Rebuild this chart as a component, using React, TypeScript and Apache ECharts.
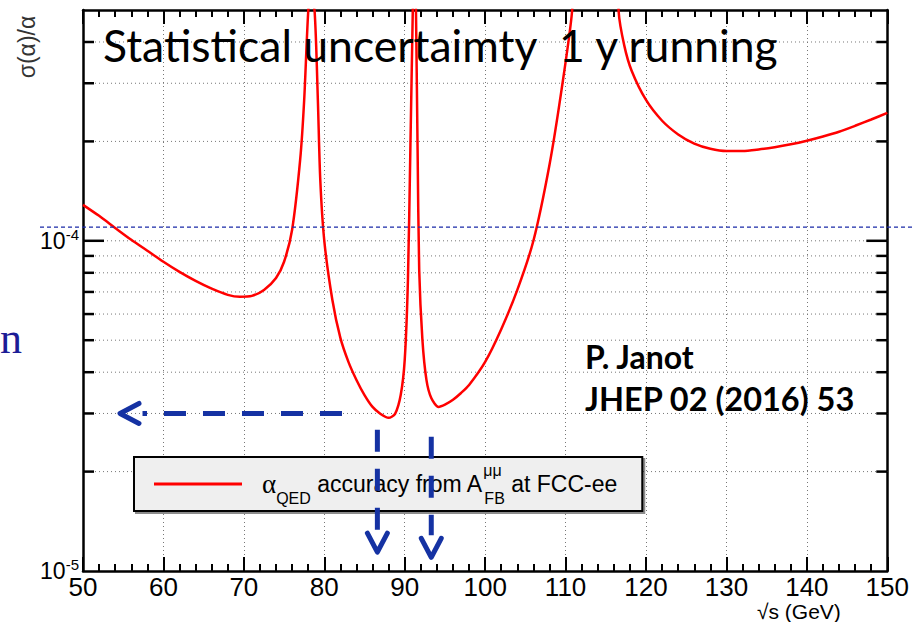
import React, { useEffect, useRef } from 'react';
import * as echarts from 'echarts';

// sqrt(s) in GeV
const energies = [
  50, 52, 54, 56, 58, 60, 62, 64, 66, 68,
  69.5, 71, 72.5, 74, 75, 76, 77, 77.5, 78, 78.3,
  78.8, 79.2, 79.5, 80, 81, 82, 83, 84, 85, 86,
  87, 88, 88.8, 89.5, 90, 90.4, 90.7, 91.0, 91.2, 91.4,
  91.6, 91.8, 92.2, 92.7, 93.3, 94.2, 95, 96, 97, 98,
  100, 102, 104, 106, 108, 109.5, 110.8, 112, 114, 116,
  116.6, 117.3, 118.2, 120, 122, 124, 126, 128, 130, 132,
  134, 136, 138, 140, 142, 144, 146, 148, 150,
];
// sigma(alpha)/alpha
const sigma = [
  1.285e-4, 1.19e-4, 1.094e-4, 1.007e-4, 9.33e-5, 8.64e-5, 8.05e-5, 7.56e-5, 7.16e-5, 6.86e-5,
  6.77e-5, 6.81e-5, 7.1e-5, 7.72e-5, 8.64e-5, 1.08e-4, 1.76e-4, 2.67e-4, 4.94e-4, 5.6e-4,
  4.94e-4, 2.67e-4, 1.53e-4, 1.0e-4, 6.63e-5, 5.08e-5, 4.3e-5, 3.79e-5, 3.41e-5, 3.14e-5,
  2.99e-5, 2.91e-5, 2.99e-5, 3.41e-5, 4.36e-5, 7.62e-5, 1.89e-4, 4.94e-4, 9e-4, 4.94e-4,
  1.89e-4, 8.17e-5, 5.01e-5, 3.79e-5, 3.34e-5, 3.14e-5, 3.19e-5, 3.3e-5, 3.46e-5, 3.66e-5,
  4.3e-5, 5.4e-5, 7.1e-5, 1.0e-4, 1.7e-4, 2.87e-4, 4.94e-4, 1.5e-3, 2e-3, 1.5e-3,
  4.94e-4, 3.9e-4, 3.28e-4, 2.67e-4, 2.31e-4, 2.1e-4, 1.97e-4, 1.9e-4, 1.87e-4, 1.87e-4,
  1.89e-4, 1.92e-4, 1.96e-4, 2.01e-4, 2.07e-4, 2.14e-4, 2.23e-4, 2.33e-4, 2.44e-4,
];

const xMin = 50;
const xMax = 150;
const xInterval = 10;
const yMin = 1e-5;
const yMax = 5e-4;
const yTickValues = [
  2e-5, 3e-5, 4e-5, 5e-5, 6e-5, 7e-5, 8e-5, 9e-5,
  1e-4, 2e-4, 3e-4, 4e-4,
];

// annotations (data coordinates)
const refLineValue = 1.1e-4;
const hArrowY = 3e-5;
const hArrowShaft = [82.2, 57.4];
const hArrowTip = 54.6;
const vArrowX = [86.6, 93.3];
const vArrowShaftTop = [2.68e-5, 2.55e-5];
const vArrowTip = [1.14e-5, 1.10e-5];

const seriesName = 'αQED accuracy from AFBμμ at FCC-ee';
const titleText = 'Statistical uncertaimty  1 y running';
const refText = ['P. Janot', 'JHEP 02 (2016) 53'];

const BLUE = '#1532a3';
const SANS = 'Liberation Sans, Arial, Helvetica, sans-serif';
const SERIF = 'Liberation Serif, DejaVu Serif, serif';
const HUMANIST = 'Lato, Open Sans, sans-serif';

export default function App() {
  const ref = useRef<HTMLDivElement>(null);
  useEffect(() => {
    if (!ref.current) return;
    const chart = echarts.init(ref.current, null, { renderer: 'svg' });
    const lineData = energies.map((e, i) => [e, sigma[i]]);
    const isPow10 = (v: number) => Math.abs(Math.log10(v) - Math.round(Math.log10(v))) < 1e-6;

    const xAxisCommon = {
      type: 'value',
      min: xMin,
      max: xMax,
      interval: xInterval,
      axisLine: { show: true, onZero: false, lineStyle: { color: '#000', width: 2.5 } },
      axisTick: { show: true, inside: true, length: 14, lineStyle: { color: '#000', width: 2 } },
      minorTick: { show: true, splitNumber: 5, length: 7, lineStyle: { color: '#000', width: 2 } },
    };

    chart.setOption({
      animation: false,
      backgroundColor: '#fff',
      grid: { left: 83, right: 21, top: 10, bottom: 51, containLabel: false },
      legend: {
        data: [seriesName],
        left: 134,
        top: 457,
        padding: [5, 25, 5, 20],
        backgroundColor: '#efefef',
        borderColor: '#000',
        borderWidth: 2,
        borderRadius: 0,
        shadowColor: 'rgba(0,0,0,0.45)',
        shadowOffsetX: 2,
        shadowOffsetY: 2,
        shadowBlur: 0,
        itemWidth: 88,
        itemHeight: 3,
        icon: 'rect',
        selectedMode: false,
        itemStyle: { color: '#ff0000' },
        formatter: () => '{a|α}{q|QED}{m| accuracy from A}{s|μμ}{b|FB}{m| at FCC-ee}',
        textStyle: {
          color: '#000',
          rich: {
            a: { fontSize: 27, fontFamily: SERIF, color: '#000', lineHeight: 44, padding: [0, 0, 0, 15] },
            q: { fontSize: 16, fontFamily: SANS, color: '#000', lineHeight: 16, verticalAlign: 'bottom' },
            m: { fontSize: 23, fontFamily: SANS, color: '#000', lineHeight: 44 },
            s: { fontSize: 16, fontFamily: SANS, color: '#000', lineHeight: 26, verticalAlign: 'top', width: 1 },
            b: { fontSize: 16, fontFamily: SANS, color: '#000', lineHeight: 12, verticalAlign: 'bottom' },
          },
        },
      },
      xAxis: [
        {
          ...xAxisCommon,
          position: 'bottom',
          axisLabel: { show: true, margin: 5, fontSize: 26, lineHeight: 22, fontFamily: SANS, color: '#000' },
          splitLine: { show: true, lineStyle: { color: '#777', width: 1, type: [1, 3] } },
        },
        {
          ...xAxisCommon,
          position: 'top',
          axisLabel: { show: false },
          splitLine: { show: false },
        },
      ],
      yAxis: [
        {
          type: 'log',
          logBase: 10,
          min: yMin,
          max: yMax,
          position: 'left',
          axisLine: { show: true, onZero: false, lineStyle: { color: '#000', width: 2.5 } },
          axisTick: { show: false },
          splitLine: { show: false },
          axisLabel: {
            show: true,
            margin: 4,
            formatter: (v: number) => (isPow10(v) ? `{b|10}{s|${Math.round(Math.log10(v))}}` : ''),
            rich: {
              b: { fontSize: 23, fontFamily: SANS, color: '#000', lineHeight: 28 },
              s: { fontSize: 15, fontFamily: SANS, color: '#000', lineHeight: 14, verticalAlign: 'top' },
            },
          },
        },
        {
          type: 'log',
          logBase: 10,
          min: yMin,
          max: yMax,
          position: 'right',
          axisLine: { show: true, onZero: false, lineStyle: { color: '#000', width: 2.5 } },
          axisTick: { show: false },
          splitLine: { show: false },
          axisLabel: { show: false },
        },
      ],
      series: [
        {
          type: 'custom',
          name: 'yticks',
          xAxisIndex: 0,
          yAxisIndex: 0,
          z: 1,
          silent: true,
          data: yTickValues.map((v) => [xMin, v]),
          renderItem: (params: any, api: any) => {
            const v = api.value(1);
            const p = api.coord([xMin, v]);
            const cs = params.coordSys;
            const len = isPow10(v) ? 21 : 11;
            return {
              type: 'group',
              children: [
                { type: 'line', shape: { x1: cs.x, y1: p[1], x2: cs.x + cs.width, y2: p[1] }, style: { stroke: '#777', lineWidth: 1, lineDash: [1, 3] } },
                { type: 'line', shape: { x1: cs.x, y1: p[1], x2: cs.x + len, y2: p[1] }, style: { stroke: '#000', lineWidth: 2.5 } },
                { type: 'line', shape: { x1: cs.x + cs.width - len, y1: p[1], x2: cs.x + cs.width, y2: p[1] }, style: { stroke: '#000', lineWidth: 2.5 } },
              ],
            };
          },
        },
        {
          type: 'line',
          name: seriesName,
          xAxisIndex: 0,
          yAxisIndex: 0,
          data: lineData,
          showSymbol: false,
          symbol: 'none',
          smooth: 0.25,
          clip: true,
          z: 3,
          lineStyle: { color: '#ff0000', width: 2.5 },
          itemStyle: { color: '#ff0000' },
        },
      ],
    });

    const px = (x: number, y: number) => chart.convertToPixel({ xAxisIndex: 0, yAxisIndex: 0 }, [x, y]) as number[];
    const lineStyle = { stroke: BLUE, lineWidth: 5, lineDash: [22, 17] };
    const headStyle = { stroke: BLUE, lineWidth: 5, fill: 'none', lineCap: 'round', lineJoin: 'round' };

    const refY = px(xMin, refLineValue)[1];
    const hs0 = px(hArrowShaft[0], hArrowY);
    const hs1 = px(hArrowShaft[1], hArrowY);
    const ht = px(hArrowTip, hArrowY);

    const graphics: any[] = [
      { type: 'line', z: 20, shape: { x1: 40, y1: refY, x2: 912, y2: refY }, style: { stroke: '#1a2aa8', lineWidth: 1.2, lineDash: [4, 3] } },
      { type: 'line', z: 20, shape: { x1: hs0[0], y1: hs0[1], x2: hs1[0], y2: hs1[1] }, style: lineStyle },
      { type: 'polyline', z: 20, shape: { points: [[ht[0] + 19, ht[1] - 10], [ht[0], ht[1]], [ht[0] + 19, ht[1] + 10]] }, style: headStyle },
    ];
    vArrowX.forEach((x, i) => {
      const top = px(x, vArrowShaftTop[i]);
      const tip = px(x, vArrowTip[i]);
      graphics.push(
        { type: 'line', z: 20, shape: { x1: top[0], y1: top[1], x2: tip[0], y2: tip[1] - 22 }, style: lineStyle },
        { type: 'polyline', z: 20, shape: { points: [[tip[0] - 10, tip[1] - 19], [tip[0], tip[1]], [tip[0] + 10, tip[1] - 19]] }, style: headStyle },
      );
    });
    graphics.push(
      { type: 'text', z: 15, x: 103, y: 44, style: { text: titleText, fontSize: 44.5, fontFamily: HUMANIST, fill: '#000', verticalAlign: 'middle', align: 'left' } },
      { type: 'text', z: 15, x: 585, y: 356, style: { text: refText[0], fontSize: 32, fontWeight: 'bold', fontFamily: HUMANIST, fill: '#000', verticalAlign: 'middle', align: 'left' } },
      { type: 'text', z: 15, x: 585, y: 398, style: { text: refText[1], fontSize: 32.5, fontWeight: 'bold', fontFamily: HUMANIST, fill: '#000', verticalAlign: 'middle', align: 'left' } },
      { type: 'text', z: 15, x: 757, y: 611, style: { text: '√s (GeV)', fontSize: 21, fontFamily: SANS, fill: '#000', verticalAlign: 'middle', align: 'left' } },
      { type: 'text', z: 15, x: 27, y: 47, rotation: Math.PI / 2, style: { text: 'σ(α)/α', fontSize: 23, fontFamily: SANS, fill: '#333', verticalAlign: 'middle', align: 'center' } },
      { type: 'text', z: 15, x: 0, y: 338, style: { text: 'n', fontSize: 44, fontFamily: SERIF, fill: '#1c1c96', verticalAlign: 'middle', align: 'left' } },
    );
    chart.setOption({ graphic: graphics });

    return () => chart.dispose();
  }, []);

  return (
    <div
      ref={ref}
      style={{ position: 'fixed', left: 0, top: 0, width: 912, height: 622, background: '#fff' }}
    />
  );
}
